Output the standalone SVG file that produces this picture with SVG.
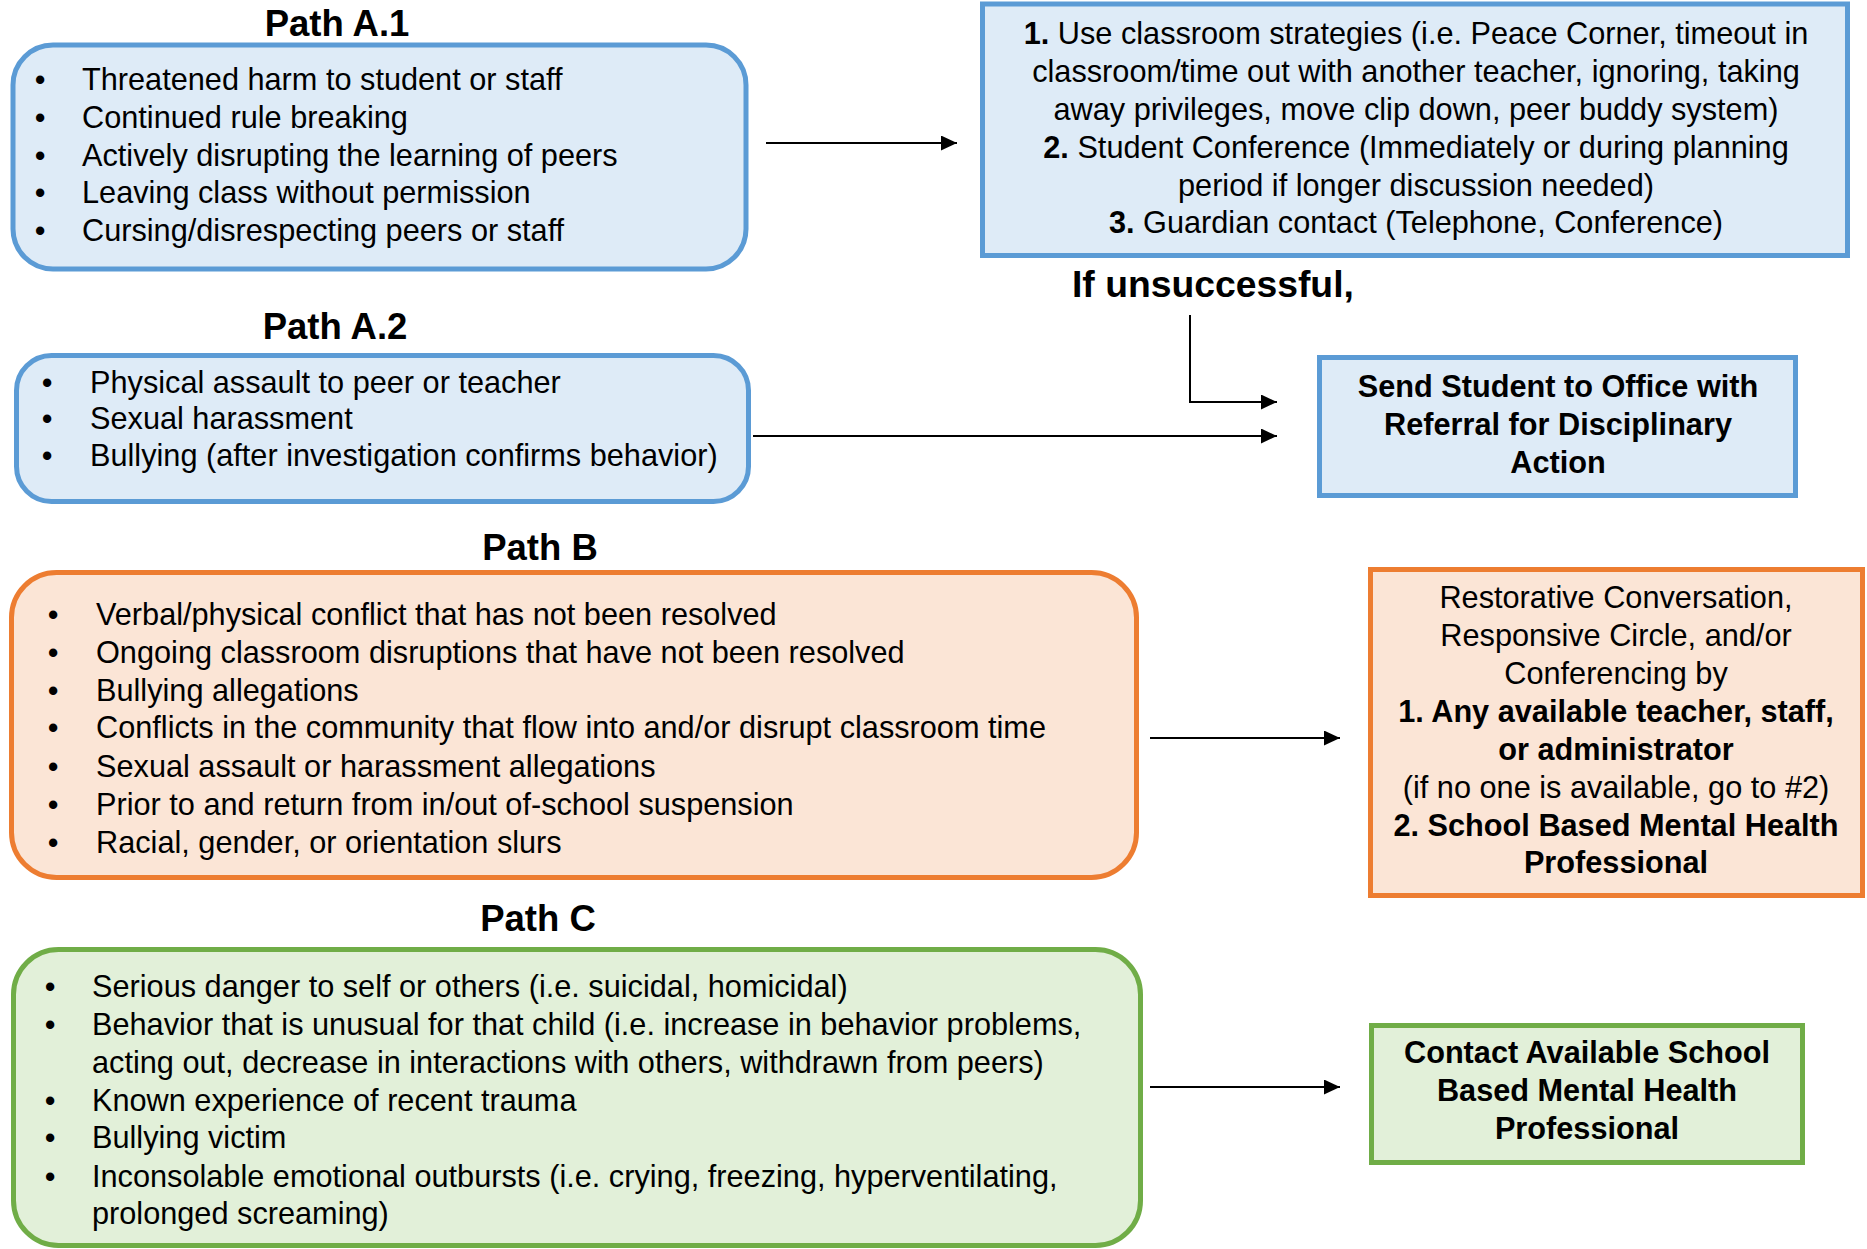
<svg xmlns="http://www.w3.org/2000/svg" width="1867" height="1249" viewBox="0 0 1867 1249">
<defs>
<marker id="arrow" markerUnits="userSpaceOnUse" markerWidth="16" markerHeight="15" refX="16" refY="7.5" orient="auto">
<path d="M0,0 L16,7.5 L0,15 z" fill="#000"/>
</marker>
<style>
text{font-family:"Liberation Sans",Arial,sans-serif;fill:#000}
.t{font-size:30.7px}
.title{font-size:36.5px;font-weight:bold;text-anchor:middle}
.b{font-weight:bold}
.c{text-anchor:middle}
.bul{text-anchor:middle;font-size:30.7px}
.blue{fill:#DEEBF7;stroke:#5B9BD5;stroke-width:5}
.orange{fill:#FBE5D6;stroke:#ED7D31;stroke-width:5}
.green{fill:#E2F0D9;stroke:#70AD47;stroke-width:5}
.conn{fill:none;stroke:#000;stroke-width:2;marker-end:url(#arrow)}
</style>
</defs>
<rect width="1867" height="1249" fill="#fff"/>

<g id="pathA1">
<text class="title" x="337" y="36">Path A.1</text>
<rect class="blue" x="13" y="45" width="733" height="224" rx="40"/>
<g class="t">
<text class="bul" x="40" y="90">•</text><text x="82" y="90">Threatened harm to student or staff</text>
<text class="bul" x="40" y="128">•</text><text x="82" y="128">Continued rule breaking</text>
<text class="bul" x="40" y="166">•</text><text x="82" y="166">Actively disrupting the learning of peers</text>
<text class="bul" x="40" y="203">•</text><text x="82" y="203">Leaving class without permission</text>
<text class="bul" x="40" y="241">•</text><text x="82" y="241">Cursing/disrespecting peers or staff</text>
</g>
</g>

<g id="strategies">
<rect class="blue" x="982.5" y="4" width="865" height="251.5"/>
<text class="t c" x="1416" y="44"><tspan class="b">1.</tspan> Use classroom strategies (i.e. Peace Corner, timeout in</text>
<text class="t c" x="1416" y="82">classroom/time out with another teacher, ignoring, taking</text>
<text class="t c" x="1416" y="120">away privileges, move clip down, peer buddy system)</text>
<text class="t c" x="1416" y="158"><tspan class="b">2.</tspan> Student Conference (Immediately or during planning</text>
<text class="t c" x="1416" y="196">period if longer discussion needed)</text>
<text class="t c" x="1416" y="233"><tspan class="b">3.</tspan> Guardian contact (Telephone, Conference)</text>
</g>

<g id="unsuccessful">
<text x="1072" y="297" style="font-size:37.3px;font-weight:bold">If unsuccessful,</text>
</g>

<g id="pathA2">
<text class="title" x="335" y="339">Path A.2</text>
<rect class="blue" x="16.5" y="355.5" width="732" height="146" rx="35"/>
<text class="bul" x="47" y="393">•</text><text class="t" x="90" y="393">Physical assault to peer or teacher</text>
<text class="bul" x="47" y="429">•</text><text class="t" x="90" y="429">Sexual harassment</text>
<text class="bul" x="47" y="466">•</text><text class="t" x="90" y="466">Bullying (after investigation confirms behavior)</text>
</g>

<g id="office">
<rect class="blue" x="1319.5" y="357.5" width="476" height="138"/>
<text class="t b c" x="1558" y="397">Send Student to Office with</text>
<text class="t b c" x="1558" y="435">Referral for Disciplinary</text>
<text class="t b c" x="1558" y="473">Action</text>
</g>

<g id="pathB">
<text class="title" x="540" y="560">Path B</text>
<rect class="orange" x="11.5" y="572.5" width="1125" height="305" rx="45"/>
<text class="bul" x="53" y="625">•</text><text class="t" x="96" y="625">Verbal/physical conflict that has not been resolved</text>
<text class="bul" x="53" y="663">•</text><text class="t" x="96" y="663">Ongoing classroom disruptions that have not been resolved</text>
<text class="bul" x="53" y="701">•</text><text class="t" x="96" y="701">Bullying allegations</text>
<text class="bul" x="53" y="738">•</text><text class="t" x="96" y="738">Conflicts in the community that flow into and/or disrupt classroom time</text>
<text class="bul" x="53" y="777">•</text><text class="t" x="96" y="777">Sexual assault or harassment allegations</text>
<text class="bul" x="53" y="815">•</text><text class="t" x="96" y="815">Prior to and return from in/out of-school suspension</text>
<text class="bul" x="53" y="853">•</text><text class="t" x="96" y="853">Racial, gender, or orientation slurs</text>
</g>

<g id="restorative">
<rect class="orange" x="1370.5" y="569.5" width="492" height="326"/>
<text class="t c" x="1616" y="608">Restorative Conversation,</text>
<text class="t c" x="1616" y="646">Responsive Circle, and/or</text>
<text class="t c" x="1616" y="684">Conferencing by</text>
<text class="t c b" x="1616" y="722">1. Any available teacher, staff,</text>
<text class="t c b" x="1616" y="760">or administrator</text>
<text class="t c" x="1616" y="798">(if no one is available, go to #2)</text>
<text class="t c b" x="1616" y="836">2. School Based Mental Health</text>
<text class="t c b" x="1616" y="873">Professional</text>
</g>

<g id="pathC">
<text class="title" x="538" y="931">Path C</text>
<rect class="green" x="13.5" y="949.5" width="1127" height="296" rx="45"/>
<text class="bul" x="50" y="997">•</text><text class="t" x="92" y="997">Serious danger to self or others (i.e. suicidal, homicidal)</text>
<text class="bul" x="50" y="1035">•</text><text class="t" x="92" y="1035">Behavior that is unusual for that child (i.e. increase in behavior problems,</text>
<text class="t" x="92" y="1073">acting out, decrease in interactions with others, withdrawn from peers)</text>
<text class="bul" x="50" y="1111">•</text><text class="t" x="92" y="1111">Known experience of recent trauma</text>
<text class="bul" x="50" y="1148">•</text><text class="t" x="92" y="1148">Bullying victim</text>
<text class="bul" x="50" y="1187">•</text><text class="t" x="92" y="1187">Inconsolable emotional outbursts (i.e. crying, freezing, hyperventilating,</text>
<text class="t" x="92" y="1224">prolonged screaming)</text>
</g>

<g id="mentalHealth">
<rect class="green" x="1371.5" y="1025.5" width="431" height="137"/>
<text class="t c b" x="1587" y="1063">Contact Available School</text>
<text class="t c b" x="1587" y="1101">Based Mental Health</text>
<text class="t c b" x="1587" y="1139">Professional</text>
</g>

<g id="connectors">
<path class="conn" d="M766,143 H957"/>
<path class="conn" d="M1190,315 V402 H1277"/>
<path class="conn" d="M753,436 H1277"/>
<path class="conn" d="M1150,738 H1340"/>
<path class="conn" d="M1150,1087 H1340"/>
</g>
</svg>
